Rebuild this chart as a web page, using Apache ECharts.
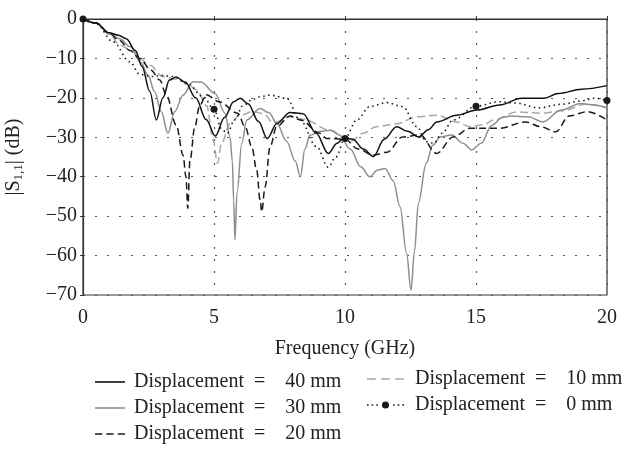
<!DOCTYPE html>
<html>
<head>
<meta charset="utf-8">
<script src="https://cdn.jsdelivr.net/npm/echarts@6/dist/echarts.min.js"></script>
<style>html,body{margin:0;padding:0;background:#fff}#c{width:634px;height:456px}</style>
</head>
<body>
<div id="c"></div>
<script>
// Frequency (GHz), |S11| (dB)
const legendNames = ['40 mm', '30 mm', '20 mm', '10 mm', '0 mm'];
const xTicks = [0, 5, 10, 15, 20];
const yTicks = [0, -10, -20, -30, -40, -50, -60, -70];
const markerFreqs = [0, 5, 10, 15, 20];

const d40 = [[0,0],[0.5,-1],[1.0,-3.5],[1.35,-4.1],[1.65,-5],[2.0,-8],[2.25,-12],[2.55,-18.4],[2.8,-25.6],[3.05,-20],[3.3,-15.5],[3.55,-14.7],[3.9,-16],[4.3,-20],[4.7,-25.5],[5.05,-29.7],[5.4,-25],[5.75,-21],[6.0,-20.1],[6.3,-21.5],[6.7,-26],[7.03,-30.3],[7.4,-26.5],[7.9,-23.7],[8.4,-24],[8.9,-29],[9.36,-34.1],[9.7,-31.5],[9.95,-30.3],[10.3,-30.5],[10.7,-33],[11.08,-34.9],[11.5,-30.5],[11.97,-27.3],[12.4,-28.5],[12.8,-29.9],[13.2,-28],[13.5,-26.1],[14.26,-24.4],[15.03,-23.1],[15.9,-21.8],[16.74,-20.1],[17.6,-20.1],[18.14,-18.9],[19.03,-17.8],[20,-16.9]];

const d30 = [[0,0],[0.5,-1],[1.0,-3.8],[1.4,-5],[1.8,-7],[2.2,-11],[2.48,-14.2],[2.73,-18.4],[2.99,-23.5],[3.24,-29],[3.5,-23.5],[3.82,-19.3],[4.2,-15.9],[4.5,-16],[5.04,-18.9],[5.42,-23.9],[5.61,-29.9],[5.7,-36],[5.75,-46],[5.8,-56],[5.88,-44],[6.06,-31.5],[6.25,-25.6],[6.76,-22.7],[7.1,-23.8],[7.4,-26.5],[7.77,-31],[8.1,-36],[8.3,-40],[8.47,-33],[8.66,-29.5],[9.05,-28.5],[9.45,-28.2],[9.8,-29.5],[10.2,-33],[10.6,-37.5],[10.95,-40],[11.25,-38.3],[11.53,-37.9],[11.84,-41],[12.1,-47.6],[12.35,-59.4],[12.52,-68.8],[12.65,-59],[12.8,-46.7],[13.1,-36.6],[13.35,-32],[13.63,-29.9],[14.07,-29.4],[14.5,-31.5],[14.84,-33.2],[15.2,-31.5],[15.6,-27],[16.0,-25],[16.35,-24.6],[17.0,-24.8],[17.55,-26.1],[18.25,-23.1],[19.0,-21.4],[19.5,-21.8],[20,-22.6]];

const d20 = [[0,0],[0.5,-1],[1.0,-3.6],[1.4,-5.5],[1.8,-8],[2.16,-10],[2.6,-13],[2.93,-15.5],[3.18,-19.3],[3.56,-26.9],[3.82,-34.5],[3.93,-40],[4.0,-48],[4.08,-36],[4.27,-27.3],[4.45,-22],[4.7,-19.2],[5.2,-21],[5.9,-23.9],[6.2,-27.5],[6.44,-32.4],[6.63,-38.3],[6.76,-45.9],[6.82,-48.9],[6.95,-42.6],[7.14,-32.4],[7.39,-27.3],[7.9,-24.6],[8.3,-25.6],[9.05,-29],[9.3,-30.3],[10.0,-30.5],[10.5,-33],[11.08,-34.5],[11.6,-33.8],[12.2,-29.9],[12.86,-29.4],[13.5,-34.1],[14.13,-29.9],[14.77,-27.7],[15.9,-27.7],[16.9,-26.1],[17.45,-27.3],[18.05,-28.6],[18.55,-24.6],[19.25,-23.5],[20,-25.6]];

const d10 = [[0,0],[0.5,-1],[1.0,-3.8],[1.4,-6.6],[1.91,-8.3],[2.55,-11.7],[3.05,-14.6],[3.6,-15.3],[4.0,-16.5],[4.34,-18],[4.72,-22],[4.97,-30.7],[5.13,-36.6],[5.29,-31.5],[5.61,-26.5],[5.99,-24.4],[6.5,-23.5],[6.88,-24],[7.26,-26.3],[7.9,-24.8],[8.4,-25.4],[9.43,-28.2],[10.19,-31.1],[10.7,-29],[11.2,-27.3],[11.97,-26.6],[12.74,-24.8],[13.5,-24.4],[14.26,-26.1],[14.77,-27.3],[15.3,-26.8],[15.66,-25.6],[16.55,-23.6],[17.5,-23.9],[18.3,-23.3],[19.2,-21.6],[20,-22.4]];

const d0 = [[0,0],[0.5,-1.2],[1.15,-5.8],[1.78,-10.8],[2.16,-14],[2.6,-14.6],[3.0,-14.3],[3.44,-14.6],[4.0,-16.5],[4.59,-19.7],[5,-22.9],[5.3,-28],[5.5,-29],[5.8,-25.5],[6.1,-22],[6.5,-20.3],[6.76,-19.7],[7.14,-19.3],[7.77,-20.1],[8.28,-25.6],[8.92,-32.4],[9.36,-37.6],[9.65,-35],[10,-30.3],[10.45,-25.6],[10.95,-22.2],[11.6,-21.2],[12.2,-22.2],[12.74,-27.3],[13.1,-31.1],[13.4,-31.5],[13.7,-29],[14.13,-25.6],[15,-22.1],[15.9,-21],[16.5,-21.3],[17.4,-22.5],[18.3,-21.6],[19.0,-20.8],[19.54,-20.1],[20,-20.7]];

const FONT = '"Liberation Serif", "DejaVu Serif", serif';
const chart = echarts.init(document.getElementById('c'));

function mk(pts) {
  return pts.map(p => markerFreqs.includes(p[0]) ? {value: p} : {value: p, symbol: 'none'});
}

// legend icons (drawn as filled paths)
const iconSolid = 'path://M0,0H30V1.6H0Z';
const iconDash20 = 'path://M0,0H7V1.6H0Z M11,0H18V1.6H11Z M22,0H29V1.6H22Z';
const iconDash10 = 'path://M0,0H8V1.6H0Z M13,0H21V1.6H13Z M26,0H34V1.6H26Z';
const iconDot0 = 'path://M0,-0.8h1.6v1.6h-1.6Z M4.5,-0.8h1.6v1.6h-1.6Z M9,-0.8h1.6v1.6h-1.6Z M14.5,0a3.5,3.5 0 1,0 7,0a3.5,3.5 0 1,0 -7,0Z M25.4,-0.8h1.6v1.6h-1.6Z M29.9,-0.8h1.6v1.6h-1.6Z M34.4,-0.8h1.6v1.6h-1.6Z';

const lineBase = {type: 'line', smooth: 0.35, smoothMonotone: 'x', symbol: 'none', animation: false};
const legText = {fontFamily: FONT, fontSize: 20, color: '#222'};
const legFmt = n => 'Displacement  =\u2002\u2002' + n;

chart.setOption({
  animation: false,
  grid: {left: 83, right: 27, top: 19, bottom: 161, show: true, borderColor: '#333', borderWidth: 1.2,
         containLabel: false, outerBoundsMode: 'none'},
  xAxis: {
    type: 'value', min: xTicks[0], max: xTicks[xTicks.length - 1], interval: 5,
    name: 'Frequency (GHz)', nameLocation: 'middle', nameGap: 44,
    nameTextStyle: {fontFamily: FONT, fontSize: 20, color: '#222'},
    axisLine: {lineStyle: {color: '#333', width: 1.2}},
    axisTick: {show: true, inside: true, length: 3, lineStyle: {color: '#333'}},
    axisLabel: {fontFamily: FONT, fontSize: 20, color: '#222', margin: 13},
    splitLine: {show: true, lineStyle: {color: '#555', type: [2, 10], width: 1.2}}
  },
  yAxis: {
    type: 'value', min: yTicks[yTicks.length - 1], max: yTicks[0], interval: 10,
    name: '{n||S}{s|1,1}{n|| (dB)}', nameLocation: 'middle', nameGap: 58, nameRotate: 90,
    nameTextStyle: {fontFamily: FONT, fontSize: 20, color: '#222',
      rich: {n: {fontFamily: FONT, fontSize: 20, color: '#222'},
             s: {fontFamily: FONT, fontSize: 13, color: '#222', padding: [10, 0, 0, 0]}}},
    axisLine: {show: true, lineStyle: {color: '#333', width: 1.2}},
    axisTick: {show: true, inside: false, length: 3, lineStyle: {color: '#333'}},
    axisLabel: {fontFamily: FONT, fontSize: 20, color: '#222', margin: 6,
      formatter: v => String(v).replace('-', '\u2212')},
    splitLine: {show: true, lineStyle: {color: '#555', type: [2, 10], width: 1.2}}
  },
  legend: [
    {data: [{name: '40 mm', icon: iconSolid}, {name: '30 mm', icon: iconSolid}, {name: '20 mm', icon: iconDash20}],
     orient: 'vertical', left: 90, top: 367,
     itemWidth: 30, itemHeight: 12, itemGap: 6,
     formatter: legFmt,
     textStyle: Object.assign({padding: [0, 0, 0, 4]}, legText)},
    {data: [{name: '10 mm', icon: iconDash10}, {name: '0 mm', icon: iconDot0}],
     orient: 'vertical', left: 362, top: 364,
     itemWidth: 37, itemHeight: 12, itemGap: 6,
     formatter: legFmt,
     textStyle: Object.assign({padding: [0, 0, 0, 6]}, legText)}
  ],
  series: [
    Object.assign({}, lineBase, {name: '10 mm', data: d10, z: 2,
      lineStyle: {color: '#a8a8a8', width: 1.5, type: [8, 4]}, itemStyle: {color: '#a8a8a8'}}),
    Object.assign({}, lineBase, {name: '30 mm', data: d30, z: 3,
      lineStyle: {color: '#8f8f8f', width: 1.5, type: 'solid'}, itemStyle: {color: '#8f8f8f'}}),
    Object.assign({}, lineBase, {name: '20 mm', data: d20, z: 4,
      lineStyle: {color: '#1a1a1a', width: 1.5, type: [7, 4]}, itemStyle: {color: '#1a1a1a'}}),
    Object.assign({}, lineBase, {name: '0 mm', data: mk(d0), z: 5, symbol: 'circle', symbolSize: 7,
      showSymbol: true, showAllSymbol: true, clip: false,
      lineStyle: {color: '#1a1a1a', width: 1.6, type: [1.5, 3.5]}, itemStyle: {color: '#1a1a1a'}}),
    Object.assign({}, lineBase, {name: '40 mm', data: d40, z: 6,
      lineStyle: {color: '#111', width: 1.5, type: 'solid'}, itemStyle: {color: '#111'}})
  ]
});
</script>
</body>
</html>
